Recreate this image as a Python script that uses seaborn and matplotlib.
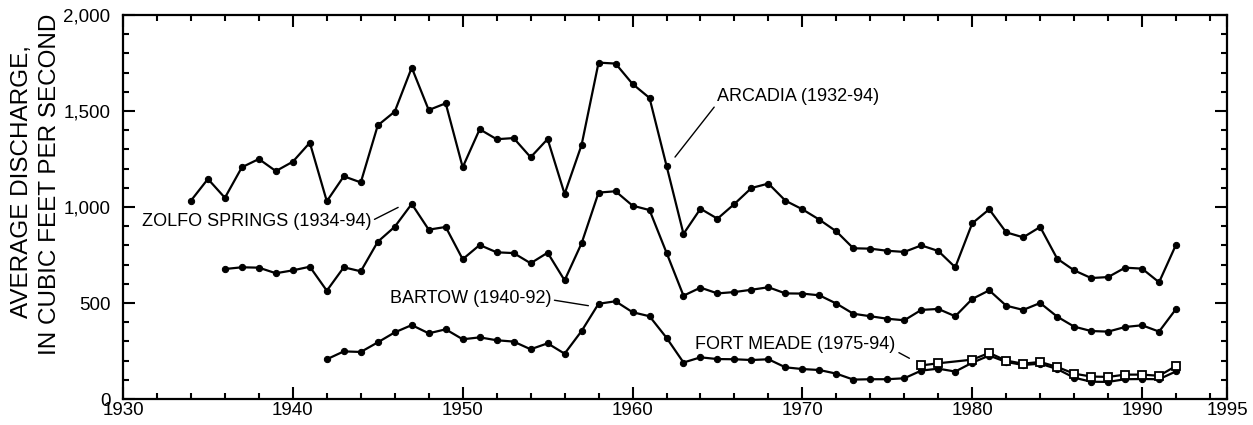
import numpy as np
import pandas as pd
import matplotlib
matplotlib.use("Agg")
import matplotlib.pyplot as plt
from matplotlib.ticker import MultipleLocator, FuncFormatter
import seaborn as sns

# ---------------- data ----------------
arcadia_years = list(range(1934, 1993))
arcadia = [1033, 1146, 1048, 1207, 1250, 1187, 1236, 1335, 1030, 1160, 1128, 1425, 1497, 1726, 1505,
           1540, 1207, 1405, 1353, 1359, 1259, 1354, 1068, 1323, 1752, 1747, 1641, 1568, 1215, 860,
           991, 939, 1016, 1099, 1122, 1033, 988, 934, 873, 785, 783, 772, 766, 800, 771,
           686, 915, 988, 868, 842, 896, 731, 670, 630, 635, 684, 679, 608, 804]

zolfo_years = list(range(1936, 1993))
zolfo = [677, 686, 684, 655, 670, 689, 564, 686, 665, 819, 897, 1016, 882,
         896, 728, 802, 764, 760, 707, 762, 618, 811, 1075, 1082, 1007, 984, 762, 538,
         580, 550, 557, 569, 582, 550, 549, 540, 497, 444, 431, 418, 410, 464, 469,
         431, 521, 566, 486, 464, 500, 429, 377, 354, 351, 375, 384, 351, 469]

bartow_years = list(range(1942, 1993))
bartow = [207, 248, 245, 295, 347, 385, 342, 363, 311, 321, 306, 299,
          259, 290, 236, 354, 496, 509, 452, 431, 319, 190,
          217, 208, 207, 203, 207, 165, 156, 151, 132, 101, 103, 103, 108, 148, 158,
          143, 189, 226, 193, 177, 184, 156, 111, 90, 89, 103, 104, 103, 144]

fortmeade_years = [1977, 1978] + list(range(1980, 1993))
fortmeade = [175, 186, 205, 240, 200, 184, 193, 167, 132, 117, 115, 127, 127, 121, 172]

x_ticks = [1930, 1940, 1950, 1960, 1970, 1980, 1990, 1995]
y_ticks = [0, 500, 1000, 1500, 2000]

labels = {
    "arcadia": "ARCADIA (1932-94)",
    "zolfo": "ZOLFO SPRINGS (1934-94)",
    "bartow": "BARTOW (1940-92)",
    "fortmeade": "FORT MEADE (1975-94)",
}

# ---------------- plot ----------------
sns.set_style("ticks")
plt.rcParams["font.family"] = ["Liberation Sans", "DejaVu Sans"]
plt.rcParams["text.color"] = "black"
plt.rcParams["axes.labelcolor"] = "black"
plt.rcParams["xtick.color"] = "black"
plt.rcParams["ytick.color"] = "black"

fig = plt.figure(figsize=(12.53, 4.25), dpi=100)
ax = fig.add_axes([123 / 1253, 1 - 399 / 425, (1227 - 123) / 1253, (399 - 15) / 425])

line_kw = dict(color="black", linewidth=1.6, ax=ax, legend=False, sort=False)

for yrs, vals in [(arcadia_years, arcadia), (zolfo_years, zolfo), (bartow_years, bartow)]:
    df = pd.DataFrame({"year": yrs, "q": vals})
    sns.lineplot(data=df, x="year", y="q", marker="o", markersize=4.5,
                 markeredgecolor="black", markerfacecolor="black", **line_kw)

df_fm = pd.DataFrame({"year": fortmeade_years, "q": fortmeade})
sns.lineplot(data=df_fm, x="year", y="q", marker="s", markersize=5.2,
             markeredgecolor="black", markerfacecolor="white", markeredgewidth=1.3,
             **line_kw)

ax.set_xlim(1930, 1995)
ax.set_ylim(0, 2000)
ax.set_xticks(x_ticks)
ax.set_yticks(y_ticks)
ax.xaxis.set_minor_locator(MultipleLocator(2))
ax.yaxis.set_minor_locator(MultipleLocator(100))
ax.yaxis.set_major_formatter(FuncFormatter(lambda v, p: f"{int(v):,}"))
ax.set_xlabel("")
ax.set_ylabel("")

for s in ax.spines.values():
    s.set_visible(True)
    s.set_linewidth(1.6)
    s.set_color("black")

ax.tick_params(which="both", direction="in", top=True, right=True,
               labelsize=13.5, colors="black", labelcolor="black", width=1.5)
ax.tick_params(which="major", length=8.5)
ax.tick_params(which="minor", length=4.5)
ax.tick_params(axis="x", which="major", pad=2)
ax.tick_params(axis="y", which="major", pad=9)

fs = 13
arrow = dict(arrowstyle="-", color="black", lw=1.0, shrinkA=0, shrinkB=0)
ax.annotate(labels["arcadia"], xy=(1962.5, 1260), xytext=(1965.0, 1573),
            fontsize=fs, va="center", ha="left", color="black",
            arrowprops=dict(arrow, relpos=(0, 0.15)))
ax.annotate(labels["zolfo"], xy=(1946.2, 998), xytext=(1931.1, 927),
            fontsize=fs, va="center", ha="left", color="black",
            arrowprops=dict(arrow, relpos=(1, 0.5)))
ax.annotate(labels["bartow"], xy=(1957.4, 486), xytext=(1945.7, 526),
            fontsize=fs, va="center", ha="left", color="black",
            arrowprops=dict(arrow, relpos=(1, 0.4)))
ax.annotate(labels["fortmeade"], xy=(1976.3, 212), xytext=(1963.7, 286),
            fontsize=fs, va="center", ha="left", color="black",
            arrowprops=dict(arrow, relpos=(1, 0.1)))

fig.text(22 / 1253, 1 - 182 / 425, "AVERAGE DISCHARGE,", rotation=90,
         ha="center", va="center", fontsize=17.5, color="black")
fig.text(50 / 1253, 1 - 184 / 425, "IN CUBIC FEET PER SECOND", rotation=90,
         ha="center", va="center", fontsize=17.5, color="black")

fig.savefig("out.png", dpi=100)
